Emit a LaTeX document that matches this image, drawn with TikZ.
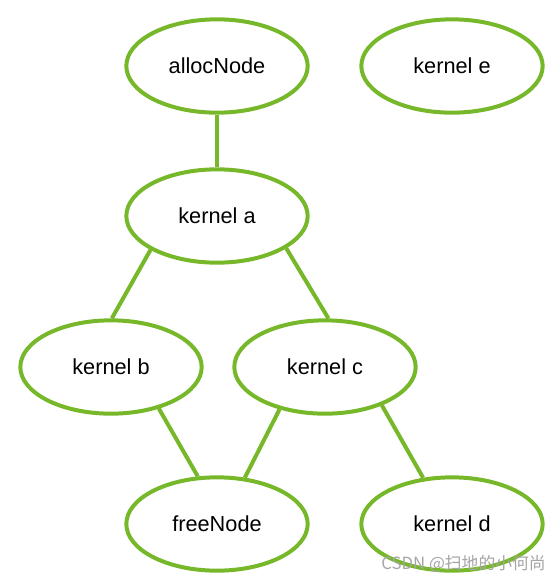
\documentclass[tikz,border=0pt]{standalone}
\usepackage{fontspec}
\setmainfont{Liberation Sans}
\newfontfamily\cjk{Noto Sans CJK SC}
\usetikzlibrary{shapes.geometric}
\definecolor{ngreen}{HTML}{76B82A}
\tikzset{
  knode/.style={ellipse, draw=ngreen, line width=3pt, fill=white,
    minimum width=136pt, minimum height=70pt, inner sep=0pt,
    font=\fontsize{16.3}{18}\selectfont},
  kedge/.style={draw=ngreen, line width=3pt}
}
\begin{document}
\begin{tikzpicture}[x=0.75pt,y=-0.75pt]
\useasboundingbox (0,0) rectangle (560,583);
\node[knode] (alloc) at (217,66) {allocNode};
\node[knode] (e) at (452,66) {kernel e};
\node[knode] (a) at (217,216) {kernel a};
\node[knode] (b) at (111,367) {kernel b};
\node[knode] (c) at (325,367) {kernel c};
\node[knode] (free) at (217,524) {freeNode};
\node[knode] (d) at (452,524) {kernel d};
\draw[kedge] (alloc.south) -- (a.north);
\draw[kedge] (a.207.6) -- (b.89);
\draw[kedge] (a.335) -- (c.86.5);
\draw[kedge] (b.319) -- (free.112.6);
\draw[kedge] (c.223.5) -- (free.59.2);
\draw[kedge] (c.326) -- (d.122.5);
\node[font=\cjk\fontsize{12.6}{14}\selectfont, text=gray!70, anchor=east, inner sep=0pt] (wm) at (546,564) {CSDN @扫地的小何尚};
\end{tikzpicture}
\end{document}
